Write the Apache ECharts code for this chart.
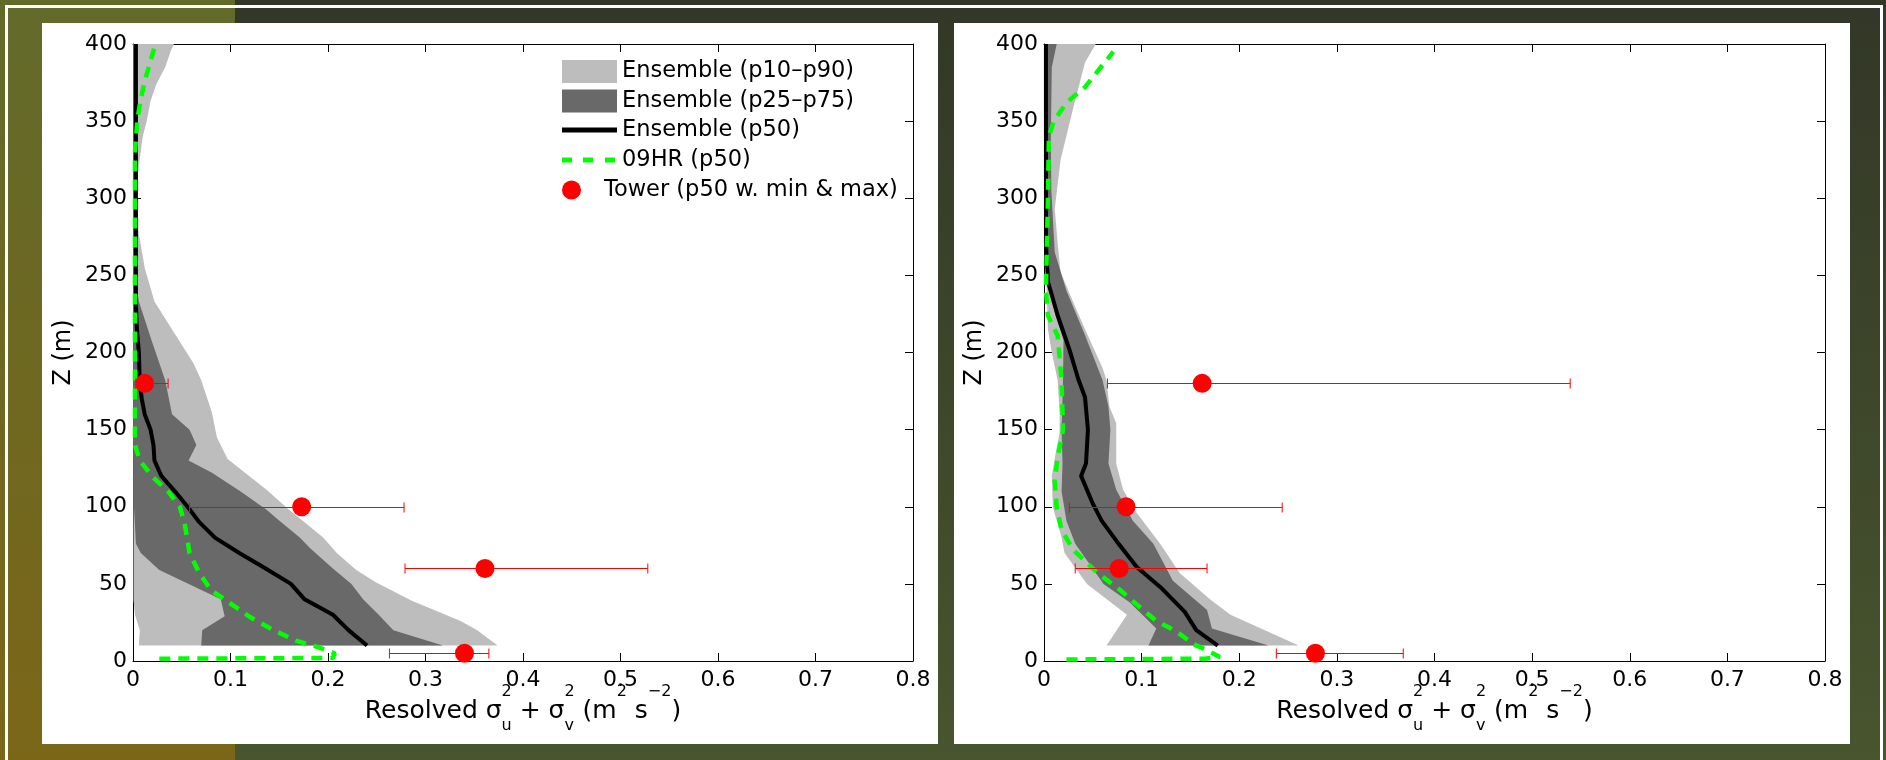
<!DOCTYPE html>
<html>
<head>
<meta charset="utf-8">
<script src="https://cdn.jsdelivr.net/npm/echarts@6/dist/echarts.min.js"></script>
<style>
  html, body { margin: 0; padding: 0; width: 1886px; height: 760px; overflow: hidden; }
  #bg { position: absolute; left: 0; top: 0; width: 1886px; height: 760px;
        background: linear-gradient(#323727, #48552e); }
  #strip { position: absolute; left: 0; top: 0; width: 235px; height: 760px;
           background: linear-gradient(#626a2a, #7b6618); }
  .rule { position: absolute; background: #fff; }
  .panel { position: absolute; background: #fff; top: 23px; height: 721px; width: 896px; }
  #chart { position: absolute; left: 0; top: 0; width: 1886px; height: 760px; }
</style>
</head>
<body>
<div id="bg"></div>
<div id="strip"></div>
<div class="rule" style="left:5px;top:5px;width:1878px;height:3px;"></div>
<div class="rule" style="left:5px;top:5px;width:3px;height:755px;"></div>
<div class="rule" style="left:1880px;top:5px;width:3px;height:755px;"></div>
<div class="panel" style="left:42px;"></div>
<div class="panel" style="left:954px;"></div>
<div id="chart"></div>
<script>
// Heights of the tower instruments (m)
const towerZ = [5, 60, 100, 180];

// ---------- Left panel: ensemble percentiles (x = resolved variance, z = height) ----------
const L_p10_z = [10, 20, 30, 40, 400];
const L_p10_x = [0.006, 0.007, 0.002, 0.0005, 0.0005];
const L_p90_z = [10, 20, 26, 39, 51, 59, 70, 80, 90, 98, 111, 131, 145, 161, 182, 193, 211, 233, 255, 277, 302, 321, 340, 350, 363, 374, 385, 396, 400];
const L_p90_x = [0.374, 0.353, 0.336, 0.286, 0.249, 0.229, 0.209, 0.195, 0.176, 0.160, 0.137, 0.097, 0.086, 0.081, 0.070, 0.062, 0.044, 0.022, 0.012, 0.006, 0.003, 0.006, 0.010, 0.014, 0.018, 0.024, 0.033, 0.039, 0.042];
const L_p25_z = [10, 20, 29, 40, 59, 70, 76, 100, 400];
const L_p25_x = [0.070, 0.071, 0.094, 0.090, 0.027, 0.008, 0.003, 0.001, 0.0005];
const L_p75_z = [10, 20, 30, 40, 50, 60, 73, 80, 92, 98, 110, 122, 130, 140, 150, 160, 182, 208, 233, 250, 400];
const L_p75_x = [0.318, 0.267, 0.252, 0.236, 0.224, 0.205, 0.182, 0.171, 0.148, 0.137, 0.110, 0.081, 0.057, 0.065, 0.058, 0.040, 0.033, 0.019, 0.006, 0.002, 0.001];
const L_p50_z = [10, 20, 30, 40, 50, 60, 70, 80, 90, 100, 110, 120, 130, 140, 150, 160, 170, 180, 200, 215, 230, 400];
const L_p50_x = [0.240, 0.221, 0.205, 0.176, 0.162, 0.136, 0.109, 0.084, 0.068, 0.056, 0.043, 0.029, 0.022, 0.021, 0.018, 0.012, 0.009, 0.007, 0.006, 0.004, 0.003, 0.003];
// 09HR median profile
const L_hr_z = [1.5, 2, 5, 9, 13, 20, 28.5, 39, 46, 57, 70, 89, 100, 110, 119, 130, 140, 160, 330, 351, 363, 376, 389, 400];
const L_hr_x = [0.027, 0.205, 0.207, 0.190, 0.168, 0.144, 0.120, 0.096, 0.080, 0.068, 0.058, 0.053, 0.048, 0.036, 0.0205, 0.007, 0.002, 0.002, 0.002, 0.0045, 0.0076, 0.012, 0.018, 0.023];
// Tower median with min & max
const L_tw_p50 = [0.340, 0.361, 0.173, 0.012];
const L_tw_min = [0.263, 0.279, 0.058, 0.003];
const L_tw_max = [0.365, 0.528, 0.278, 0.036];

// ---------- Right panel ----------
const R_p10_z = [10, 30, 50, 70, 80, 100, 120, 135, 148, 160, 182, 200, 215, 252, 400];
const R_p10_x = [0.064, 0.085, 0.044, 0.021, 0.018, 0.009, 0.008, 0.012, 0.016, 0.016, 0.014, 0.008, 0.004, 0.002, 0.001];
const R_p90_z = [10, 30, 40, 57, 76, 96, 111, 128, 154, 165, 182, 190, 215, 234, 252, 271, 293, 325, 356, 388, 400];
const R_p90_x = [0.261, 0.191, 0.170, 0.139, 0.119, 0.095, 0.081, 0.074, 0.074, 0.067, 0.064, 0.060, 0.042, 0.029, 0.017, 0.014, 0.011, 0.017, 0.029, 0.042, 0.053];
const R_p25_z = [10, 21, 38, 50, 76, 91, 110, 128, 150, 182, 208, 226, 252, 305, 400];
const R_p25_x = [0.107, 0.115, 0.088, 0.061, 0.032, 0.023, 0.018, 0.019, 0.018, 0.0195, 0.020, 0.011, 0.004, 0.0015, 0.001];
const R_p75_z = [10, 21, 33, 52, 76, 91, 111, 128, 150, 165, 182, 212, 240, 265, 305, 340, 385, 400];
const R_p75_x = [0.230, 0.172, 0.167, 0.132, 0.112, 0.091, 0.074, 0.066, 0.068, 0.066, 0.060, 0.0415, 0.023, 0.011, 0.0075, 0.007, 0.008, 0.013];
const R_p50_z = [10, 20, 32, 48, 61, 78, 91, 102, 120, 128, 150, 171, 183, 202, 224, 246, 271, 400];
const R_p50_x = [0.178, 0.156, 0.144, 0.119, 0.095, 0.074, 0.059, 0.050, 0.038, 0.043, 0.045, 0.042, 0.035, 0.026, 0.014, 0.004, 0.002, 0.002];
const R_hr_z = [1, 1.5, 2.6, 7, 11, 19, 26, 35, 46, 57, 72, 85, 100, 117, 132, 150, 182, 211, 224, 240, 300, 340, 350, 362, 372, 384, 395];
const R_hr_x = [0.023, 0.165, 0.180, 0.167, 0.153, 0.136, 0.115, 0.098, 0.078, 0.055, 0.030, 0.018, 0.013, 0.011, 0.014, 0.0195, 0.018, 0.014, 0.004, 0.002, 0.004, 0.005, 0.010, 0.023, 0.042, 0.057, 0.071];
const R_tw_p50 = [0.278, 0.077, 0.084, 0.162];
const R_tw_min = [0.238, 0.032, 0.026, 0.065];
const R_tw_max = [0.368, 0.167, 0.244, 0.539];

// Axis ranges and tick steps
const xRange = [0, 0.8], xStep = 0.1;
const zRange = [0, 400], zStep = 50;

const NAMES = {
  p1090: 'Ensemble (p10\u2013p90)',
  p2575: 'Ensemble (p25\u2013p75)',
  p50: 'Ensemble (p50)',
  hr: '09HR (p50)',
  tower: 'Tower (p50 w. min & max)'
};

const FONT = 'DejaVu Sans';
const LIGHT = '#bdbdbd', DARK = '#696969', GREEN = '#00ff00', RED = '#ff0000';

// Plot frames (px) for the two panels
const GRIDS = [
  { left: 133, top: 44, width: 780, height: 617 },
  { left: 1044, top: 44, width: 781, height: 617 }
];

const pairs = (xs, zs) => xs.map((x, i) => [x, zs[i]]);

// Filled band between a lower and an upper percentile profile
function band(name, color, loX, loZ, hiX, hiZ, panel) {
  const verts = pairs(loX, loZ);
  for (let i = hiX.length - 1; i >= 0; i--) verts.push([hiX[i], hiZ[i]]);
  return {
    name, type: 'custom', xAxisIndex: panel * 2, yAxisIndex: panel * 2,
    data: verts, silent: true, clip: true, z: 1,
    itemStyle: { color },
    renderItem(params, api) {
      if (params.dataIndex !== 0) return null;
      return { type: 'polygon', shape: { points: verts.map(v => api.coord(v)) }, style: { fill: color } };
    }
  };
}

function profile(name, xs, zs, panel, style, z) {
  return {
    name, type: 'line', xAxisIndex: panel * 2, yAxisIndex: panel * 2,
    data: pairs(xs, zs), symbol: 'none', showSymbol: false, silent: true,
    clip: true, z, lineStyle: style, emphasis: { disabled: true }
  };
}

// Horizontal min-max bars with end caps
function errorBars(panel, mn, mx) {
  return {
    name: NAMES.tower, type: 'custom', xAxisIndex: panel * 2, yAxisIndex: panel * 2,
    data: towerZ.map((z, i) => [mn[i], z, mx[i]]),
    encode: { x: [0, 2], y: 1 }, silent: true, z: 5,
    itemStyle: { color: RED },
    renderItem(params, api) {
      const a = api.coord([api.value(0), api.value(1)]);
      const b = api.coord([api.value(2), api.value(1)]);
      const y = Math.round(a[1]) + 0.5, h = 5;
      const st = { stroke: RED, lineWidth: 1 };
      return {
        type: 'group', children: [
          { type: 'line', shape: { x1: a[0], y1: y, x2: b[0], y2: y }, style: st },
          { type: 'line', shape: { x1: a[0], y1: y - h, x2: a[0], y2: y + h }, style: st },
          { type: 'line', shape: { x1: b[0], y1: y - h, x2: b[0], y2: y + h }, style: st }
        ]
      };
    }
  };
}

function towerPoints(panel, p50) {
  return {
    name: NAMES.tower, type: 'scatter', xAxisIndex: panel * 2, yAxisIndex: panel * 2,
    data: pairs(p50, towerZ), symbol: 'circle', symbolSize: 19, silent: true, z: 6,
    itemStyle: { color: RED, opacity: 1 }, emphasis: { disabled: true }
  };
}

function panelSeries(panel, d) {
  return [
    band(NAMES.p1090, LIGHT, d.p10x, d.p10z, d.p90x, d.p90z, panel),
    band(NAMES.p2575, DARK, d.p25x, d.p25z, d.p75x, d.p75z, panel),
    profile(NAMES.p50, d.p50x, d.p50z, panel, { color: '#000', width: 4 }, 3),
    profile(NAMES.hr, d.hrx, d.hrz, panel, { color: GREEN, width: 4.5, type: [11, 8], cap: 'butt' }, 4),
    errorBars(panel, d.mn, d.mx),
    towerPoints(panel, d.tw)
  ];
}

const axisText = { color: '#000', fontFamily: FONT, fontSize: 22 };
const blackLine = { show: true, onZero: false, lineStyle: { color: '#000', width: 1 } };
const inTicks = { show: true, inside: true, length: 8, lineStyle: { color: '#000', width: 1 } };

function xAxes(grid) {
  const base = { type: 'value', gridIndex: grid, min: xRange[0], max: xRange[1], interval: xStep,
                 splitLine: { show: false }, axisLine: blackLine, axisTick: inTicks };
  return [
    Object.assign({}, base, { position: 'bottom', axisLabel: Object.assign({ margin: 8 }, axisText) }),
    Object.assign({}, base, { position: 'top', axisLabel: { show: false } })
  ];
}

function yAxes(grid) {
  const base = { type: 'value', gridIndex: grid, min: zRange[0], max: zRange[1], interval: zStep,
                 splitLine: { show: false }, axisLine: blackLine, axisTick: inTicks };
  return [
    Object.assign({}, base, {
      position: 'left',
      axisLabel: Object.assign({ margin: 6 }, axisText),
      name: 'Z (m)', nameLocation: 'middle', nameGap: 57, nameRotate: 90, nameMoveOverlap: false,
      nameTextStyle: { color: '#000', fontFamily: FONT, fontSize: 24 }
    }),
    Object.assign({}, base, { position: 'right', axisLabel: { show: false } })
  ];
}

// x-axis title with TeX-like stacked super/subscripts: sigma_u^2 + sigma_v^2 (m^2 s^-2)
const TITLE_PARTS = [
  { t: 'Resolved \u03c3', k: 'main' },
  { t: '2', k: 'sup', stack: true }, { t: 'u', k: 'sub' },
  { t: ' + \u03c3', k: 'main' },
  { t: '2', k: 'sup', stack: true }, { t: 'v', k: 'sub' },
  { t: ' (m', k: 'main' }, { t: '2', k: 'sup' },
  { t: ' s', k: 'main' }, { t: '\u22122', k: 'sup' },
  { t: ')', k: 'main' }
];
const TITLE_STYLE = {               // font size and baseline (px below the plot bottom)
  main: { size: 25, base: 59 },
  sup: { size: 16, base: 36.5 },
  sub: { size: 16, base: 70 }
};
const measureCtx = document.createElement('canvas').getContext('2d');
function textWidth(t, size) {
  measureCtx.font = size + 'px "' + FONT + '"';
  return measureCtx.measureText(t).width;
}
function xTitle(g) {
  const bottom = g.top + g.height;
  // total advance width
  let total = 0;
  for (let i = 0; i < TITLE_PARTS.length; i++) {
    const p = TITLE_PARTS[i], s = TITLE_STYLE[p.k];
    if (p.stack) {
      const q = TITLE_PARTS[i + 1];
      total += Math.max(textWidth(p.t, s.size), textWidth(q.t, TITLE_STYLE[q.k].size));
      i++;
    } else total += textWidth(p.t, s.size);
  }
  let x = g.left + g.width / 2 - total / 2;
  const els = [];
  const place = (p, px) => {
    const s = TITLE_STYLE[p.k];
    els.push({
      type: 'text', x: px, y: bottom + s.base - 0.346 * s.size, silent: true, z: 10,
      style: { text: p.t, fontFamily: FONT, fontSize: s.size, fill: '#000',
               textAlign: 'left', textVerticalAlign: 'middle' }
    });
  };
  for (let i = 0; i < TITLE_PARTS.length; i++) {
    const p = TITLE_PARTS[i];
    if (p.stack) {
      const q = TITLE_PARTS[i + 1];
      place(p, x); place(q, x);
      x += Math.max(textWidth(p.t, TITLE_STYLE[p.k].size), textWidth(q.t, TITLE_STYLE[q.k].size));
      i++;
    } else {
      place(p, x);
      x += textWidth(p.t, TITLE_STYLE[p.k].size);
    }
  }
  return els;
}

// Legend rows: one component per row so each icon keeps its own size
const legendRows = [
  { name: NAMES.p1090, icon: 'rect', w: 55, h: 23, color: LIGHT, cy: 71.5 },
  { name: NAMES.p2575, icon: 'rect', w: 55, h: 23, color: DARK, cy: 101 },
  { name: NAMES.p50, icon: 'rect', w: 55, h: 5, color: '#000', cy: 130 },
  { name: NAMES.hr, icon: 'path://M0,0H10V5H0Z M21,0H31V5H21Z M43,0H53V5H43Z', w: 53, h: 5, color: GREEN, cy: 160 },
  { name: NAMES.tower, icon: 'circle', w: 55, h: 19, color: RED, cy: 190 }
];
const legends = legendRows.map(r => ({
  left: 562, top: r.cy - 13, orient: 'vertical', padding: 0,
  itemWidth: r.w, itemHeight: r.h, selectedMode: false,
  textStyle: { color: '#000', fontFamily: FONT, fontSize: 22.5, lineHeight: 26, padding: [0, 0, 0, r.w === 53 ? 2 : 0] },
  data: [{ name: r.name, icon: r.icon, itemStyle: { color: r.color, borderWidth: 0, opacity: 1 } }]
}));

const left = { p10x: L_p10_x, p10z: L_p10_z, p90x: L_p90_x, p90z: L_p90_z, p25x: L_p25_x, p25z: L_p25_z,
               p75x: L_p75_x, p75z: L_p75_z, p50x: L_p50_x, p50z: L_p50_z, hrx: L_hr_x, hrz: L_hr_z,
               tw: L_tw_p50, mn: L_tw_min, mx: L_tw_max };
const right = { p10x: R_p10_x, p10z: R_p10_z, p90x: R_p90_x, p90z: R_p90_z, p25x: R_p25_x, p25z: R_p25_z,
                p75x: R_p75_x, p75z: R_p75_z, p50x: R_p50_x, p50z: R_p50_z, hrx: R_hr_x, hrz: R_hr_z,
                tw: R_tw_p50, mn: R_tw_min, mx: R_tw_max };

const chart = echarts.init(document.getElementById('chart'), null, { renderer: 'canvas' });
chart.setOption({
  backgroundColor: 'transparent',
  animation: false,
  textStyle: { fontFamily: FONT },
  grid: GRIDS,
  xAxis: xAxes(0).concat(xAxes(1)),
  yAxis: yAxes(0).concat(yAxes(1)),
  legend: legends,
  graphic: xTitle(GRIDS[0]).concat(xTitle(GRIDS[1])),
  series: panelSeries(0, left).concat(panelSeries(1, right))
});
</script>
</body>
</html>
